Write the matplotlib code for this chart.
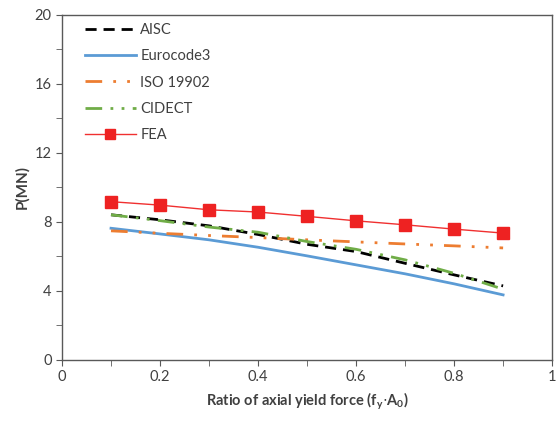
import numpy as np
import matplotlib.pyplot as plt
from matplotlib.ticker import MultipleLocator

plt.rcParams['font.family'] = ['Lato', 'DejaVu Sans']

# axial load ratio
ratio = [0.1, 0.2, 0.3, 0.4, 0.5, 0.6, 0.7, 0.8, 0.9]

# capacities (MN)
aisc = [8.41, 8.12, 7.77, 7.27, 6.70, 6.28, 5.60, 4.93, 4.29]
eurocode3 = [7.63, 7.30, 6.96, 6.53, 6.03, 5.51, 4.99, 4.41, 3.77]
iso19902 = [7.48, 7.34, 7.21, 7.09, 6.96, 6.84, 6.72, 6.61, 6.49]
cidect = [8.41, 8.07, 7.70, 7.40, 6.86, 6.41, 5.80, 5.02, 4.10]
fea = [9.17, 8.97, 8.70, 8.57, 8.32, 8.06, 7.83, 7.58, 7.35]

x_ticks = [0, 0.2, 0.4, 0.6, 0.8, 1]
x_labels = ['0', '0.2', '0.4', '0.6', '0.8', '1']
y_ticks = [0, 4, 8, 12, 16, 20]

fig = plt.figure(figsize=(5.56, 4.21), dpi=100)
ax = fig.add_axes([0.1115, 0.145, 0.8815, 0.82])

ax.plot(ratio, aisc, color='black', lw=2, ls=(0, (4, 2.5)), label='AISC')
ax.plot(ratio, eurocode3, color='#5b9bd5', lw=2, label='Eurocode3')
ax.plot(ratio, iso19902, color='#ed7d31', lw=2,
        ls=(0, (6, 4, 1, 4, 1, 4)), label='ISO 19902')
ax.plot(ratio, cidect, color='#70ad47', lw=2,
        ls=(0, (6, 3, 1, 3, 1, 3)), label='CIDECT')
ax.plot(ratio, fea, color='#f03030', lw=1, marker='s', ms=8,
        mfc='#ee2222', mec='#ee2222', label='FEA')

ax.set_xlim(0, 1)
ax.set_ylim(0, 20)
ax.set_xticks(x_ticks)
ax.set_xticklabels(x_labels)
ax.set_yticks(y_ticks)
ax.xaxis.set_minor_locator(MultipleLocator(0.1))
ax.yaxis.set_minor_locator(MultipleLocator(2))
ax.tick_params(which='both', direction='out', length=4, color='#595959',
               labelsize=10.5, labelcolor='#404040')
for s in ax.spines.values():
    s.set_color('#595959')
    s.set_linewidth(1)

ax.set_xlabel(r'Ratio of axial yield force (f$_\mathregular{y}$$\cdot$A$_\mathregular{0}$)',
              fontsize=10.5, fontweight='bold', color='#404040')
ax.set_ylabel('P(MN)', fontsize=11, fontweight='bold', color='#404040',
              labelpad=4)

ax.legend(loc='upper left', frameon=False, fontsize=10.5, handlelength=3.5,
          handletextpad=0.3, labelspacing=0.85, borderaxespad=0.15,
          markerscale=0.9, bbox_to_anchor=(0.03, 1.0), labelcolor='#404040')

fig.savefig('out.png', dpi=100)
